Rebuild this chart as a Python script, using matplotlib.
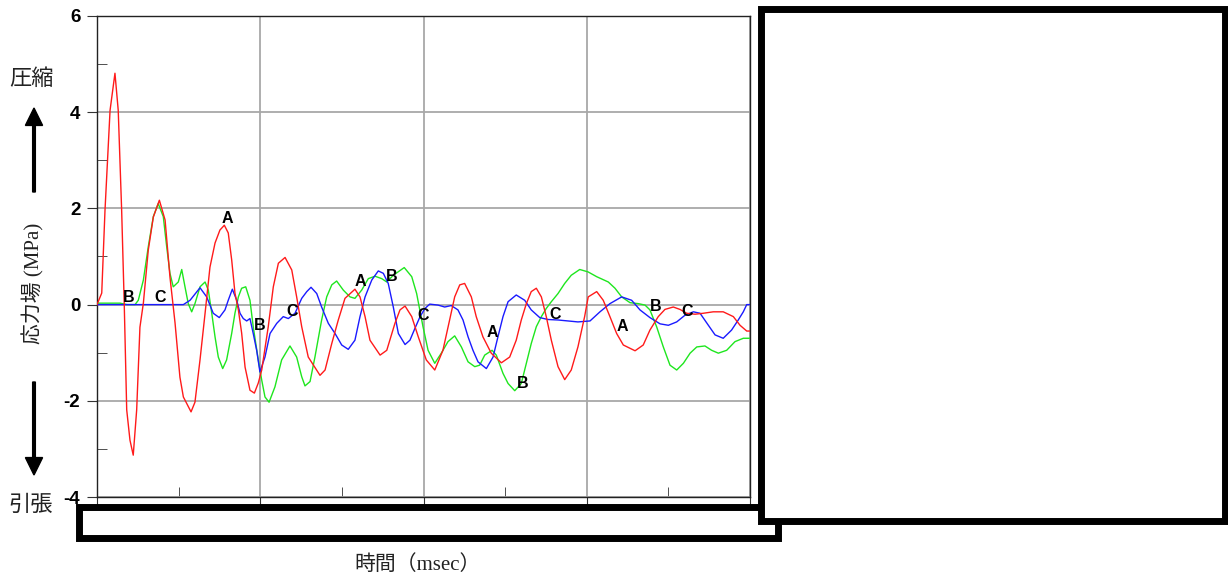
import matplotlib
matplotlib.use("Agg")
import matplotlib.pyplot as plt
from matplotlib.patches import Rectangle, FancyArrow
from matplotlib.ticker import MultipleLocator

plt.rcParams['font.family'] = ['Liberation Sans', 'Noto Sans CJK JP', 'DejaVu Sans']
plt.rcParams['axes.unicode_minus'] = False

# stress waveforms at the three gauges (time in msec, stress in MPa)
t_a = [0.00, 0.29, 0.49, 0.80, 1.10, 1.30, 1.51, 1.67, 1.82, 2.02, 2.22, 2.43, 2.63, 2.84,
       3.14, 3.45, 3.82, 4.17, 4.47, 4.78, 5.08, 5.29, 5.76, 6.00, 6.31, 6.62, 6.92, 7.23,
       7.53, 7.80, 8.04, 8.25, 8.45, 8.66, 8.86, 9.07, 9.37, 9.64, 9.88, 10.09, 10.49, 10.80,
       11.11, 11.52, 11.93, 12.23, 12.54, 12.94, 13.66, 13.97, 14.38, 14.78, 15.19, 15.80,
       16.11, 16.42, 16.72, 17.34, 17.75, 18.25, 18.56, 18.87, 19.28, 19.68, 20.17, 20.69,
       21.19, 21.60, 21.91, 22.22, 22.52, 22.93, 23.23, 23.64, 24.15, 24.77, 25.28, 25.68,
       25.99, 26.30, 26.60, 26.91, 27.22, 27.52, 27.83, 28.24, 28.65, 29.05, 29.46, 29.87,
       30.09, 30.61, 31.01, 31.42, 31.83, 32.24, 32.96, 33.46, 33.87, 34.38, 34.79, 35.30,
       35.71, 36.12, 36.63, 37.14, 37.75, 38.36, 38.98, 39.39, 39.80, 40.00]
s_a = [0.00, 0.24, 1.96, 4.04, 4.81, 4.04, 1.96, -0.01, -2.19, -2.82, -3.13, -2.19, -0.47, 0.03,
       1.13, 1.82, 2.17, 1.76, 0.57, -0.38, -1.51, -1.92, -2.23, -2.03, -1.15, -0.18, 0.78, 1.28,
       1.55, 1.65, 1.49, 0.93, 0.24, -0.11, -0.59, -1.30, -1.78, -1.84, -1.63, -1.36, -0.46, 0.37,
       0.86, 0.98, 0.72, 0.16, -0.46, -1.09, -1.47, -1.36, -0.81, -0.32, 0.13, 0.32,
       0.16, -0.25, -0.74, -1.05, -0.95, -0.39, -0.11, -0.03, -0.25, -0.67, -1.15, -1.36,
       -0.95, -0.32, 0.16, 0.41, 0.44, 0.16, -0.25, -0.67, -1.01, -1.21, -1.09, -0.74,
       -0.32, 0.02, 0.27, 0.34, 0.16, -0.25, -0.74, -1.29, -1.56, -1.36, -0.88, -0.25,
       0.16, 0.27, 0.09, -0.25, -0.60, -0.84, -0.96, -0.84, -0.53, -0.25, -0.10, -0.05,
       -0.10, -0.18, -0.20, -0.18, -0.15, -0.15, -0.25, -0.43, -0.55, -0.55]

t_b = [0.00, 1.41, 1.84, 2.33, 2.53, 2.84, 3.14, 3.45, 3.75, 4.06, 4.27, 4.47, 4.67, 4.98,
       5.19, 5.39, 5.59, 5.80, 6.00, 6.31, 6.62, 6.82, 7.03, 7.23, 7.43, 7.70, 7.94, 8.25,
       8.45, 8.66, 8.86, 9.11, 9.37, 9.57, 9.88, 10.09, 10.29, 10.54, 10.90, 11.31, 11.82,
       12.23, 12.54, 12.74, 13.05, 13.35, 13.76, 14.07, 14.38, 14.68, 15.09, 15.50, 15.80,
       16.21, 16.62, 17.03, 17.44, 17.75, 18.15, 18.82, 19.28, 19.58, 19.97, 20.28, 20.69,
       21.09, 21.50, 21.91, 22.32, 22.73, 23.14, 23.44, 23.75, 24.20, 24.46, 24.87, 25.18,
       25.59, 25.99, 26.30, 26.60, 26.91, 27.22, 27.52, 27.83, 28.24, 28.65, 29.05, 29.57,
       30.08, 30.61, 31.32, 31.73, 32.14, 32.65, 33.16, 33.57, 33.87, 34.28, 34.69, 35.10,
       35.51, 35.92, 36.33, 36.74, 37.24, 37.65, 38.06, 38.57, 39.08, 39.59, 40.00]
s_b = [0.03, 0.03, 0.00, 0.00, 0.09, 0.51, 1.20, 1.83, 2.10, 1.83, 1.20, 0.65, 0.37, 0.47,
       0.73, 0.37, 0.02, -0.15, 0.02, 0.37, 0.47, 0.30, -0.18, -0.67, -1.09, -1.33, -1.15, -0.60,
       -0.18, 0.16, 0.34, 0.37, 0.09, -0.46, -1.15, -1.57, -1.92, -2.03, -1.71, -1.15, -0.86,
       -1.09, -1.50, -1.69, -1.60, -1.09, -0.32, 0.16, 0.41, 0.49, 0.30, 0.16, 0.13,
       0.30, 0.54, 0.59, 0.54, 0.47, 0.61, 0.77, 0.58, 0.23, -0.46, -0.95, -1.22,
       -1.01, -0.77, -0.65, -0.88, -1.19, -1.29, -1.26, -1.05, -0.95, -1.05, -1.43, -1.64,
       -1.79, -1.64, -1.22, -0.81, -0.46, -0.25, -0.08, 0.06, 0.23, 0.44, 0.61, 0.73,
       0.68, 0.58, 0.47, 0.34, 0.16, 0.04, 0.02, -0.01, -0.11, -0.46, -0.88, -1.26,
       -1.36, -1.22, -1.01, -0.88, -0.86, -0.95, -1.01, -0.95, -0.77, -0.70, -0.70]

t_c = [0.00, 5.29, 5.70, 6.31, 6.72, 7.12, 7.49, 7.84, 8.04, 8.29, 8.56, 8.76, 8.96, 9.17,
       9.37, 9.57, 9.78, 9.98, 10.29, 10.60, 11.01, 11.41, 11.72, 12.13, 12.54, 12.85, 13.11,
       13.46, 13.76, 14.17, 14.58, 14.99, 15.39, 15.80, 16.11, 16.42, 16.83, 17.23, 17.54,
       17.84, 18.15, 18.46, 18.87, 19.17, 19.48, 19.79, 20.09, 20.38, 20.89, 21.30, 21.70,
       22.11, 22.42, 22.73, 23.03, 23.34, 23.85, 24.26, 24.56, 24.87, 25.18, 25.68, 26.20,
       26.60, 27.12, 27.63, 28.24, 28.85, 29.46, 30.20, 30.81, 31.42, 32.14, 32.75, 33.26,
       33.87, 34.49, 35.00, 35.51, 36.02, 36.53, 36.94, 37.45, 37.86, 38.36, 38.87, 39.28,
       39.59, 39.80, 40.00]
s_c = [0.00, 0.00, 0.09, 0.35, 0.16, -0.18, -0.27, -0.11, 0.09, 0.32, 0.09, -0.18, -0.29, -0.34,
       -0.29, -0.60, -0.95, -1.40, -1.09, -0.60, -0.39, -0.25, -0.29, -0.18, 0.13, 0.27, 0.36,
       0.23, -0.05, -0.39, -0.60, -0.84, -0.93, -0.74, -0.25, 0.16, 0.51, 0.70, 0.65,
       0.44, -0.05, -0.60, -0.83, -0.74, -0.49, -0.25, -0.08, 0.01, -0.01, -0.05, -0.02,
       -0.11, -0.32, -0.67, -0.95, -1.19, -1.33, -1.09, -0.67, -0.25, 0.06, 0.20, 0.09,
       -0.11, -0.27, -0.31, -0.32, -0.34, -0.36, -0.34, -0.15, 0.02, 0.16, 0.09, -0.11,
       -0.27, -0.40, -0.43, -0.36, -0.22, -0.15, -0.18, -0.43, -0.63, -0.70, -0.53, -0.32,
       -0.15, 0.00, 0.00]

# wave arrival markers
mark_text = ['B', 'C', 'A', 'B', 'C', 'A', 'B', 'C', 'A', 'B', 'C', 'A', 'B', 'C']
mark_t = [1.92, 3.86, 8.01, 9.98, 11.93, 16.11, 18.05, 19.99, 24.20, 26.10, 28.04, 32.20, 34.24, 36.12]
mark_s = [0.15, 0.15, 1.79, -0.43, -0.15, 0.47, 0.59, -0.22, -0.59, -1.64, -0.20, -0.46, -0.03, -0.15]

y_ticks = [-4, -2, 0, 2, 4, 6]

fig = plt.figure(figsize=(12.28, 5.81), dpi=100)
ax = fig.add_axes([97 / 1228, 1 - 497 / 581, 653 / 1228, 481 / 581])

ax.plot(t_b, s_b, color='#1ee61e', lw=1.0, zorder=3)
ax.plot(t_c, s_c, color='#1a1aff', lw=1.0, zorder=4)
ax.plot(t_a, s_a, color='#ff1a1a', lw=1.0, zorder=5)

for txt, tx, sy in zip(mark_text, mark_t, mark_s):
    ax.text(tx, sy, txt, fontsize=11.5, fontweight='bold', color='black',
            ha='center', va='center', zorder=6)

ax.set_xlim(0, 40)
ax.set_ylim(-4, 6)
ax.xaxis.set_major_locator(MultipleLocator(10))
ax.xaxis.set_minor_locator(MultipleLocator(5))
ax.set_yticks(y_ticks)
ax.yaxis.set_minor_locator(MultipleLocator(1))
ax.grid(True, which='major', color='#a8a8a8', lw=1.3)
ax.tick_params(axis='x', which='major', direction='out', length=7, labelbottom=False, color='#333333')
ax.tick_params(axis='x', which='minor', direction='in', length=7, color='#333333')
ax.tick_params(axis='y', which='major', direction='out', length=7, pad=5, labelsize=13.5, color='#333333')
ax.tick_params(axis='y', which='minor', direction='in', length=7, color='#333333')
for lab in ax.get_yticklabels():
    lab.set_fontweight('bold')
for side in ['left', 'bottom', 'right', 'top']:
    ax.spines[side].set_color('#222222')
    ax.spines[side].set_linewidth(1.0)

W, H = 1228, 581

def fx(px):
    return px / W

def fy(py):
    return 1 - py / H

cjk = ['Liberation Serif', 'Noto Sans CJK JP']
fig.text(fx(31), fy(80), '圧縮', fontsize=16, family=cjk, ha='center', va='center', color='#222222')
fig.text(fx(31), fy(506), '引張', fontsize=16, family=cjk, ha='center', va='center', color='#222222')
fig.text(fx(33), fy(283), '応力場 (MPa)', fontsize=15, family=cjk, rotation=90,
         ha='center', va='center', color='#222222')
fig.text(fx(418), fy(565), '時間（msec）', fontsize=15, family=cjk, ha='center', va='center', color='#222222')

fig.patches.append(FancyArrow(fx(34), fy(192), 0, fy(108) - fy(192), width=0.0022,
                              head_width=0.014, head_length=0.03, length_includes_head=True,
                              color='black', transform=fig.transFigure, figure=fig))
fig.patches.append(FancyArrow(fx(34), fy(382), 0, fy(475) - fy(382), width=0.0022,
                              head_width=0.014, head_length=0.03, length_includes_head=True,
                              color='black', transform=fig.transFigure, figure=fig))

# blank panels over the axis and right side
box_lw = 5.0
fig.patches.append(Rectangle((fx(78.5), fy(537.5)), (777.5 - 78.5) / W, (537.5 - 506.5) / H,
                             fill=True, facecolor='white', edgecolor='black', lw=box_lw,
                             transform=fig.transFigure, figure=fig, zorder=10))
fig.patches.append(Rectangle((fx(760.5), fy(520.5)), (1224.5 - 760.5) / W, (520.5 - 8.5) / H,
                             fill=True, facecolor='white', edgecolor='black', lw=box_lw,
                             transform=fig.transFigure, figure=fig, zorder=11))

fig.savefig('out.png', dpi=100)
